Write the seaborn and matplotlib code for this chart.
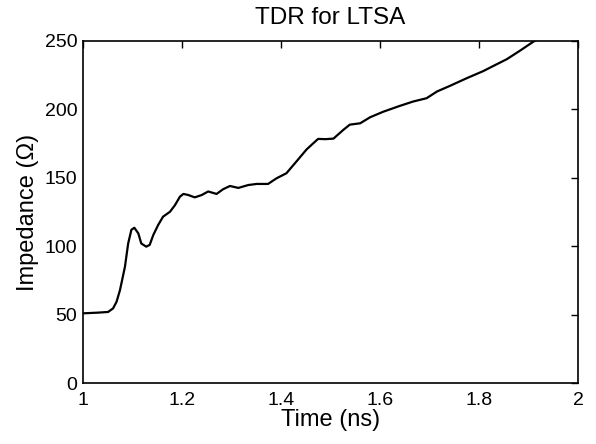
import matplotlib
matplotlib.use("Agg")
import matplotlib.pyplot as plt
import seaborn as sns
import pandas as pd

time_ns = [1.000, 1.030, 1.051, 1.061, 1.068, 1.075, 1.085, 1.0915, 1.098, 1.104,
           1.112, 1.118, 1.128, 1.135, 1.142, 1.152, 1.162, 1.176, 1.186, 1.196,
           1.203, 1.213, 1.226, 1.240, 1.253, 1.270, 1.283, 1.297, 1.314, 1.334,
           1.351, 1.374, 1.391, 1.411, 1.431, 1.452, 1.475, 1.490, 1.506, 1.526,
           1.539, 1.560, 1.580, 1.607, 1.640, 1.667, 1.694, 1.715, 1.741, 1.775,
           1.809, 1.829, 1.856, 1.883, 1.910, 1.930]
impedance = [51.0, 51.5, 52.0, 54.6, 59.4, 68.0, 85.0, 102.0, 112.0, 113.5,
             109.4, 102.0, 99.7, 101.0, 108.0, 115.5, 121.6, 125.2, 130.0, 136.2,
             138.2, 137.4, 135.7, 137.4, 140.0, 138.2, 141.6, 144.0, 142.6, 144.7,
             145.5, 145.5, 149.6, 153.3, 161.8, 170.8, 178.4, 178.2, 178.6, 185.0,
             188.8, 189.8, 194.2, 198.3, 202.5, 205.7, 208.1, 213.0, 217.1, 222.7,
             228.0, 231.7, 236.6, 242.9, 249.5, 253.0]

x_ticks = [1, 1.2, 1.4, 1.6, 1.8, 2]
x_tick_labels = ["1", "1.2", "1.4", "1.6", "1.8", "2"]
y_ticks = [0, 50, 100, 150, 200, 250]

df = pd.DataFrame({"Time": time_ns, "Impedance": impedance})

sns.set_style("white")
plt.rcParams["font.family"] = ["Liberation Sans", "DejaVu Sans"]
plt.rcParams["text.color"] = "black"
plt.rcParams["axes.labelcolor"] = "black"
plt.rcParams["xtick.direction"] = "in"
plt.rcParams["ytick.direction"] = "in"

fig = plt.figure(figsize=(5.96, 4.44), dpi=100)
ax = fig.add_axes([0.139, 0.137, 0.831, 0.771])
sns.lineplot(data=df, x="Time", y="Impedance", color="black", linewidth=1.6, ax=ax)

ax.set_xlim(1, 2)
ax.set_ylim(0, 250)
ax.set_xticks(x_ticks)
ax.set_xticklabels(x_tick_labels)
ax.set_yticks(y_ticks)
ax.tick_params(axis="both", which="both", direction="in", length=5, width=1,
               labelsize=14, top=True, right=True, color="black", labelcolor="black")
ax.tick_params(axis="x", pad=6)
ax.tick_params(axis="y", pad=4)
for s in ax.spines.values():
    s.set_visible(True)
    s.set_color("black")
    s.set_linewidth(1.2)

ax.set_xlabel("Time (ns)", fontsize=17, labelpad=0, color="black")
ax.set_ylabel("Impedance (Ω)", fontsize=17, labelpad=4, color="black")
ax.set_title("TDR for LTSA", fontsize=17.5, pad=12, color="black")

fig.savefig("out.png", dpi=100, facecolor="white")
